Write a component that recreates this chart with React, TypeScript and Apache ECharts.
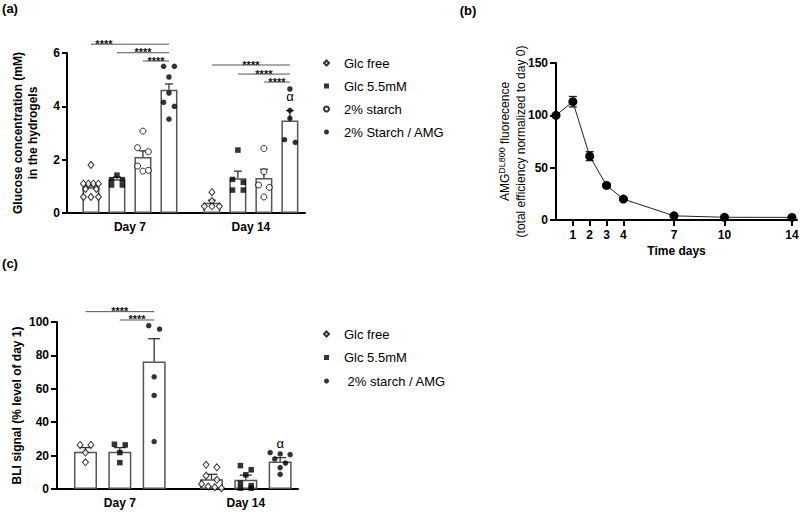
import React, { useEffect, useRef } from "react";
import * as echarts from "echarts";

const FONT = "'Liberation Sans', Arial, sans-serif";

// ---------------- Panel (a): glucose in hydrogels ----------------
const A_DAYS = ["Day 7", "Day 14"];
const A_GROUPS = ["Glc free", "Glc 5.5mM", "2% starch", "2% Starch / AMG"];
const A_MEAN_GLC_FREE = [0.97, 0.38];
const A_MEAN_GLC_55 = [1.27, 1.3];
const A_MEAN_STARCH = [2.1, 1.31];
const A_MEAN_AMG = [4.62, 3.47];
const A_SEM_GLC_FREE = [0.12, 0.1];
const A_SEM_GLC_55 = [0.08, 0.27];
const A_SEM_STARCH = [0.23, 0.33];
const A_SEM_AMG = [0.22, 0.37];
const A_PTS_GLC_FREE = [[1.8, 1.1, 1.1, 1.1, 1.1, 0.9, 0.9, 0.6, 0.6, 0.6], [0.78, 0.45, 0.25, 0.25, 0.25]];
const A_PTS_GLC_55 = [[1.42, 1.25, 1.25, 1.05, 1.05], [2.36, 1.26, 1.15, 0.86, 0.86]];
const A_PTS_STARCH = [[3.07, 2.45, 2.3, 1.76, 1.6, 1.57], [2.42, 1.55, 1.05, 0.96, 0.6]];
const A_PTS_AMG = [[5.5, 5.5, 5.1, 4.5, 4.15, 4.0, 3.52], [4.65, 3.85, 3.55, 2.75, 2.65]];
const A_Y_TICKS = [0, 2, 4, 6];
// significance brackets: day, from group, to group, height (mM), text position (group units)
const A_SIG = [
  { day: 0, from: 0, to: 3, y: 6.33, at: 0.5 },
  { day: 0, from: 1, to: 3, y: 6.01 },
  { day: 0, from: 2, to: 3, y: 5.7 },
  { day: 1, from: 0, to: 3, y: 5.55 },
  { day: 1, from: 1, to: 3, y: 5.21 },
  { day: 1, from: 2, to: 3, y: 4.91 },
];
const A_ALPHA = [{ day: 1, group: 3, y: 4.36 }];

// ---------------- Panel (b): AMG fluorescence ----------------
const B_DAYS = [0, 1, 2, 3, 4, 7, 10, 14];
const B_MEAN = [100, 113, 61, 33, 20, 4, 2.6, 2.5];
const B_SEM = [0, 5, 4.3, 1.5, 1, 0.5, 0.5, 0.5];
const B_X_TICKS = [1, 2, 3, 4, 7, 10, 14];
const B_Y_TICKS = [0, 50, 100, 150];

// ---------------- Panel (c): BLI signal ----------------
const C_DAYS = ["Day 7", "Day 14"];
const C_GROUPS = ["Glc free", "Glc 5.5mM", "2% starch / AMG"];
const C_MEAN_GLC_FREE = [22.3, 5.8];
const C_MEAN_GLC_55 = [22.3, 5.6];
const C_MEAN_AMG = [76.4, 16.4];
const C_SEM_GLC_FREE = [2.5, 3.0];
const C_SEM_GLC_55 = [2.5, 2.7];
const C_SEM_AMG = [13.6, 2.4];
const C_PTS_GLC_FREE = [[26.4, 26.4, 21.8, 16], [14.5, 13, 8, 5.5, 3, 1.5, 1, 0.5]];
const C_PTS_GLC_55 = [[26.8, 26.4, 21.8, 15.8], [14, 11.5, 8.5, 3.5, 2, 0.5, 0.5]];
const C_PTS_AMG = [[97.8, 95.8, 67.2, 56, 28.4], [21.8, 21, 20.6, 18, 15.5, 12.8, 8.8]];
const C_Y_TICKS = [0, 20, 40, 60, 80, 100];
const C_SIG = [
  { day: 0, from: 0, to: 2, y: 106.2 },
  { day: 0, from: 1, to: 2, y: 101.2 },
];
const C_ALPHA = [{ day: 1, group: 2, y: 27 }];

// ---------------- layout / styles ----------------
const LA = { left: 67, top: 53, width: 238, height: 160, xMin: -0.92, xMax: 8.23, gap: 0.65, barWidth: 17, cap: 4, spread: 15 };
const LB = { left: 556, top: 63, width: 241, height: 157 };
const LC = { left: 57, top: 322, width: 241, height: 167, xMin: -0.83, xMax: 6.19, gap: 0.67, barWidth: 23, cap: 6, spread: 20 };

const MARKERS = {
  free: { symbol: "diamond", size: [6, 7], itemStyle: { color: "#fff", borderColor: "#000", borderWidth: 1 } },
  glc: { symbol: "rect", size: 5.5, itemStyle: { color: "#000" } },
  starch: { symbol: "circle", size: 6, itemStyle: { color: "#fff", borderColor: "#000", borderWidth: 1 } },
  amg: { symbol: "circle", size: 5.5, itemStyle: { color: "#000" } },
};

function swarm(vals: number[], pxPerUnit: number, size: number, maxSpread: number): number[] {
  const order = vals.map((_, i) => i).sort((a, b) => vals[b] - vals[a]);
  const off = new Array(vals.length).fill(0);
  let row: number[] = [];
  const flush = () => {
    const k = row.length;
    const d = k > 1 ? Math.min(size * 1.8, maxSpread / (k - 1)) : 0;
    row.forEach((idx, j) => { off[idx] = (j - (k - 1) / 2) * d; });
    row = [];
  };
  for (const i of order) {
    if (row.length && (vals[row[0]] - vals[i]) * pxPerUnit >= size * 0.75) flush();
    row.push(i);
  }
  flush();
  return off;
}

const txt = (text: string, x: number, y: number, font: string, rot = 0, extra: any = {}) => ({
  type: "text",
  x, y, rotation: rot,
  style: {
    text, font, fill: "#000",
    align: "center", verticalAlign: "middle",
    textAlign: "center", textVerticalAlign: "middle",
    ...extra,
  },
});

function buildOption() {
  const slotA = (day: number, g: number) => day * (A_GROUPS.length + LA.gap) + g;
  const slotC = (day: number, g: number) => day * (C_GROUPS.length + LC.gap) + g;
  const aCenters = A_DAYS.map((_, d) => slotA(d, (A_GROUPS.length - 1) / 2));
  const cCenters = C_DAYS.map((_, d) => slotC(d, (C_GROUPS.length - 1) / 2));

  const aMeans = [A_MEAN_GLC_FREE, A_MEAN_GLC_55, A_MEAN_STARCH, A_MEAN_AMG];
  const aSems = [A_SEM_GLC_FREE, A_SEM_GLC_55, A_SEM_STARCH, A_SEM_AMG];
  const aPts = [A_PTS_GLC_FREE, A_PTS_GLC_55, A_PTS_STARCH, A_PTS_AMG];
  const aMark = [MARKERS.free, MARKERS.glc, MARKERS.starch, MARKERS.amg];

  const cMeans = [C_MEAN_GLC_FREE, C_MEAN_GLC_55, C_MEAN_AMG];
  const cSems = [C_SEM_GLC_FREE, C_SEM_GLC_55, C_SEM_AMG];
  const cPts = [C_PTS_GLC_FREE, C_PTS_GLC_55, C_PTS_AMG];
  const cMark = [MARKERS.free, MARKERS.glc, MARKERS.amg];

  const aPxY = LA.height / (A_Y_TICKS[A_Y_TICKS.length - 1] - A_Y_TICKS[0]);
  const aPxX = LA.width / (LA.xMax - LA.xMin);
  const cPxY = LC.height / (C_Y_TICKS[C_Y_TICKS.length - 1] - C_Y_TICKS[0]);
  const cPxX = LC.width / (LC.xMax - LC.xMin);

  const errUp = (half: number) => (params: any, api: any) => {
    const x = api.value(0), m = api.value(1), s = api.value(2);
    const p0 = api.coord([x, m]);
    const p1 = api.coord([x, m + s]);
    const st = { stroke: "#333", lineWidth: 1.3 };
    return {
      type: "group",
      children: [
        { type: "line", shape: { x1: p0[0], y1: p0[1], x2: p1[0], y2: p1[1] }, style: st },
        { type: "line", shape: { x1: p1[0] - half, y1: p1[1], x2: p1[0] + half, y2: p1[1] }, style: st },
      ],
    };
  };
  const errBoth = (half: number) => (params: any, api: any) => {
    const x = api.value(0), m = api.value(1), s = api.value(2);
    const p0 = api.coord([x, m - s]);
    const p1 = api.coord([x, m + s]);
    const st = { stroke: "#222", lineWidth: 1.3 };
    return {
      type: "group",
      children: [
        { type: "line", shape: { x1: p0[0], y1: p0[1], x2: p1[0], y2: p1[1] }, style: st },
        { type: "line", shape: { x1: p1[0] - half, y1: p1[1], x2: p1[0] + half, y2: p1[1] }, style: st },
        { type: "line", shape: { x1: p0[0] - half, y1: p0[1], x2: p0[0] + half, y2: p0[1] }, style: st },
      ],
    };
  };
  const sigRender = (params: any, api: any) => {
    const x1 = api.value(0), x2 = api.value(1), y = api.value(2), xt = api.value(3);
    const a = api.coord([x1, y]);
    const b = api.coord([x2, y]);
    const t = api.coord([xt, y]);
    return {
      type: "group",
      children: [
        { type: "line", shape: { x1: a[0], y1: a[1], x2: b[0], y2: b[1] }, style: { stroke: "#555", lineWidth: 1 } },
        {
          type: "text", x: t[0], y: t[1] - 0.5,
          style: { text: "****", font: `bold 11px ${FONT}`, fill: "#111", align: "center", verticalAlign: "middle", textAlign: "center", textVerticalAlign: "middle" },
        },
      ],
    };
  };
  const alphaRender = (params: any, api: any) => {
    const p = api.coord([api.value(0), api.value(1)]);
    return {
      type: "text", x: p[0], y: p[1],
      style: { text: "α", font: `13px ${FONT}`, fill: "#000", align: "center", verticalAlign: "middle", textAlign: "center", textVerticalAlign: "middle" },
    };
  };

  const series: any[] = [];

  // ---- (a)
  const aBars: any[] = [];
  const aErr: any[] = [];
  A_DAYS.forEach((_, d) => A_GROUPS.forEach((__, g) => {
    aBars.push([slotA(d, g), aMeans[g][d]]);
    aErr.push([slotA(d, g), aMeans[g][d], aSems[g][d]]);
  }));
  series.push({ type: "bar", xAxisIndex: 0, yAxisIndex: 0, barWidth: LA.barWidth, data: aBars, z: 2, silent: true,
    itemStyle: { color: "#fff", borderColor: "#555", borderWidth: 1.5 } });
  series.push({ type: "custom", xAxisIndex: 0, yAxisIndex: 0, data: aErr, z: 3, renderItem: errUp(LA.cap), encode: { x: 0, y: 1 } });
  A_GROUPS.forEach((name, g) => {
    const data: any[] = [];
    A_DAYS.forEach((_, d) => {
      const vals = aPts[g][d];
      const off = swarm(vals, aPxY, 6, LA.spread);
      vals.forEach((v, i) => data.push([slotA(d, g) + off[i] / aPxX, v]));
    });
    series.push({ type: "scatter", name, xAxisIndex: 0, yAxisIndex: 0, data, z: 5,
      symbol: aMark[g].symbol, symbolSize: aMark[g].size, itemStyle: aMark[g].itemStyle });
  });
  series.push({ type: "custom", xAxisIndex: 0, yAxisIndex: 0, z: 4, renderItem: sigRender, encode: { x: [0, 1, 3], y: 2 },
    data: A_SIG.map((s) => [slotA(s.day, s.from), slotA(s.day, s.to), s.y, s.at !== undefined ? slotA(s.day, s.at) : (slotA(s.day, s.from) + slotA(s.day, s.to)) / 2]) });
  series.push({ type: "custom", xAxisIndex: 0, yAxisIndex: 0, z: 4, renderItem: alphaRender, encode: { x: 0, y: 1 },
    data: A_ALPHA.map((a) => [slotA(a.day, a.group), a.y]) });

  // ---- (b)
  series.push({ type: "line", name: "AMG DL800", xAxisIndex: 1, yAxisIndex: 1, z: 5,
    data: B_DAYS.map((d, i) => [d, B_MEAN[i]]), symbol: "circle", symbolSize: 9,
    itemStyle: { color: "#000" }, lineStyle: { color: "#222", width: 1 } });
  series.push({ type: "custom", xAxisIndex: 1, yAxisIndex: 1, z: 4, renderItem: errBoth(4), encode: { x: 0, y: 1 },
    data: B_DAYS.map((d, i) => [d, B_MEAN[i], B_SEM[i]]).filter((r) => r[2] > 0) });

  // ---- (c)
  const cBars: any[] = [];
  const cErr: any[] = [];
  C_DAYS.forEach((_, d) => C_GROUPS.forEach((__, g) => {
    cBars.push([slotC(d, g), cMeans[g][d]]);
    cErr.push([slotC(d, g), cMeans[g][d], cSems[g][d]]);
  }));
  series.push({ type: "bar", xAxisIndex: 2, yAxisIndex: 2, barWidth: LC.barWidth, data: cBars, z: 2, silent: true,
    itemStyle: { color: "#fff", borderColor: "#555", borderWidth: 1.5 } });
  series.push({ type: "custom", xAxisIndex: 2, yAxisIndex: 2, data: cErr, z: 3, renderItem: errUp(LC.cap), encode: { x: 0, y: 1 } });
  C_GROUPS.forEach((name, g) => {
    const data: any[] = [];
    C_DAYS.forEach((_, d) => {
      const vals = cPts[g][d];
      const off = swarm(vals, cPxY, 6, LC.spread);
      vals.forEach((v, i) => data.push([slotC(d, g) + off[i] / cPxX, v]));
    });
    series.push({ type: "scatter", name, xAxisIndex: 2, yAxisIndex: 2, data, z: 5,
      symbol: cMark[g].symbol, symbolSize: cMark[g].size, itemStyle: cMark[g].itemStyle });
  });
  series.push({ type: "custom", xAxisIndex: 2, yAxisIndex: 2, z: 4, renderItem: sigRender, encode: { x: [0, 1, 3], y: 2 },
    data: C_SIG.map((s: any) => [slotC(s.day, s.from), slotC(s.day, s.to), s.y, s.at !== undefined ? slotC(s.day, s.at) : (slotC(s.day, s.from) + slotC(s.day, s.to)) / 2]) });
  series.push({ type: "custom", xAxisIndex: 2, yAxisIndex: 2, z: 4, renderItem: alphaRender, encode: { x: 0, y: 1 },
    data: C_ALPHA.map((a) => [slotC(a.day, a.group), a.y]) });

  const axisLine = { show: true, onZero: false, lineStyle: { color: "#000", width: 2 } };
  const label = (margin: number) => ({ color: "#000", fontWeight: "bold", fontSize: 12, fontFamily: FONT, margin });
  const yTick = (len: number) => ({ show: true, length: len, lineStyle: { color: "#000", width: 2 } });
  const legendText = { color: "#000", fontSize: 13, fontFamily: FONT, lineHeight: 14, padding: [0, 0, 0, 10] };

  return {
    animation: false,
    backgroundColor: "#fff",
    textStyle: { fontFamily: FONT },
    grid: [
      { left: LA.left, top: LA.top, width: LA.width, height: LA.height, outerBoundsMode: "none" },
      { left: LB.left, top: LB.top, width: LB.width, height: LB.height, outerBoundsMode: "none" },
      { left: LC.left, top: LC.top, width: LC.width, height: LC.height, outerBoundsMode: "none" },
    ],
    xAxis: [
      { gridIndex: 0, type: "value", min: LA.xMin, max: LA.xMax, axisLine, axisTick: { show: false }, splitLine: { show: false },
        axisLabel: { ...label(8), customValues: aCenters, formatter: (v: number) => A_DAYS[aCenters.findIndex((c) => Math.abs(c - v) < 1e-6)] ?? "" } },
      { gridIndex: 1, type: "value", min: 0, max: 14.3, axisLine, splitLine: { show: false },
        axisTick: { show: true, length: 6, lineStyle: { color: "#000", width: 2 }, customValues: B_X_TICKS },
        axisLabel: { ...label(9), customValues: B_X_TICKS },
        name: "Time days", nameLocation: "middle", nameGap: 25,
        nameTextStyle: { color: "#000", fontWeight: "bold", fontSize: 12, fontFamily: FONT } },
      { gridIndex: 2, type: "value", min: LC.xMin, max: LC.xMax, axisLine, axisTick: { show: false }, splitLine: { show: false },
        axisLabel: { ...label(8), customValues: cCenters, formatter: (v: number) => C_DAYS[cCenters.findIndex((c) => Math.abs(c - v) < 1e-6)] ?? "" } },
    ],
    yAxis: [
      { gridIndex: 0, type: "value", min: A_Y_TICKS[0], max: A_Y_TICKS[A_Y_TICKS.length - 1], interval: A_Y_TICKS[1] - A_Y_TICKS[0],
        axisLine, axisTick: yTick(5), splitLine: { show: false }, axisLabel: label(7) },
      { gridIndex: 1, type: "value", min: B_Y_TICKS[0], max: B_Y_TICKS[B_Y_TICKS.length - 1], interval: B_Y_TICKS[1] - B_Y_TICKS[0],
        axisLine, axisTick: yTick(6), splitLine: { show: false }, axisLabel: label(8) },
      { gridIndex: 2, type: "value", min: C_Y_TICKS[0], max: C_Y_TICKS[C_Y_TICKS.length - 1], interval: C_Y_TICKS[1] - C_Y_TICKS[0],
        axisLine, axisTick: yTick(6), splitLine: { show: false }, axisLabel: label(8) },
    ],
    legend: [
      { data: A_GROUPS, orient: "vertical", left: 318, top: 51, itemWidth: 5, itemHeight: 5, itemGap: 9, selectedMode: false,
        textStyle: legendText },
      { data: C_GROUPS, orient: "vertical", left: 318, top: 322, itemWidth: 5, itemHeight: 5, itemGap: 9.5, selectedMode: false,
        formatter: (n: string) => (n === C_GROUPS[2] ? " " + n : n),
        textStyle: legendText },
    ],
    graphic: [
      txt("(a)", 10, 8, `bold 13px ${FONT}`),
      txt("(b)", 468, 10, `bold 13px ${FONT}`),
      txt("(c)", 10, 263, `bold 13px ${FONT}`),
      txt("Glucose concentration (mM)", 17.5, LA.top + LA.height / 2, `bold 12px ${FONT}`, Math.PI / 2),
      txt("in the hydrogels", 33, LA.top + LA.height / 2, `bold 12px ${FONT}`, Math.PI / 2),
      txt("AMG{sup|DL800} fluorecence", 505, LB.top + LB.height / 2, `12px ${FONT}`, Math.PI / 2, {
        lineHeight: 15,
        rich: { sup: { fontSize: 9, fontFamily: FONT, fill: "#000", verticalAlign: "top", lineHeight: 15 } },
      }),
      txt("(total efficiency normalized to day 0)", 521, LB.top + LB.height / 2, `12px ${FONT}`, Math.PI / 2),
      txt("BLI signal (% level of day 1)", 17, LC.top + LC.height / 2, `bold 12px ${FONT}`, Math.PI / 2),
    ],
    series,
  };
}

export default function App() {
  const ref = useRef<HTMLDivElement>(null);
  useEffect(() => {
    if (!ref.current) return;
    const chart = echarts.init(ref.current, null, { renderer: "svg" });
    chart.setOption(buildOption() as any);
    return () => chart.dispose();
  }, []);
  return (
    <div
      ref={ref}
      style={{ position: "absolute", left: 0, top: 0, width: 800, height: 512, background: "#fff" }}
    />
  );
}
